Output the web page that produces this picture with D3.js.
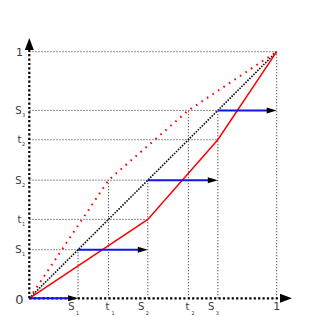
<!DOCTYPE html>
<html>
<head>
<meta charset="utf-8">
<script src="https://cdn.jsdelivr.net/npm/d3@7"></script>
<style>
  body { margin: 0; background: #fff; }
  text { font-family: "DejaVu Sans", sans-serif; fill: #3a3a3a; }
</style>
</head>
<body>
<div id="main"></div>
<script>
// values of the step points (same on both axes)
var sVals = [0.197, 0.479, 0.762];
var tVals = [0.32, 0.643];

// piecewise curves
var solidCurve = [[0, 0], [sVals[1], tVals[0]], [sVals[2], tVals[1]], [1, 1]];
var dottedCurve = [[0, 0], [tVals[0], sVals[1]], [tVals[1], sVals[2]], [1, 1]];

// blue arrows: [x from, x to, y]
var arrows = [[0, sVals[0], 0], [sVals[0], sVals[1], sVals[0]], [sVals[1], sVals[2], sVals[1]], [sVals[2], 1, sVals[2]]];

// tick labels
var yLabels = [
  {v: sVals[2], t: "S", sub: "3"}, {v: tVals[1], t: "t", sub: "2"},
  {v: sVals[1], t: "S", sub: "2"}, {v: tVals[0], t: "t", sub: "1"}, {v: sVals[0], t: "S", sub: "1"}
];
var xLabels = [
  {v: sVals[0], t: "S", sub: "1"}, {v: tVals[0], t: "t", sub: "1"}, {v: sVals[1], t: "S", sub: "2"},
  {v: tVals[1], t: "t", sub: "2"}, {v: sVals[2], t: "S", sub: "3"}
];

// guide lines: horizontal [y, xEnd], vertical [x, yEnd]
var hGuides = [[1, 1], [sVals[2], sVals[2]], [tVals[1], sVals[2]], [sVals[1], sVals[1]], [tVals[0], sVals[1]], [sVals[0], sVals[0]]];
var vGuides = [[sVals[0], sVals[0]], [tVals[0], sVals[1]], [sVals[1], sVals[1]], [tVals[1], sVals[2]], [sVals[2], sVals[2]], [1, 1]];

var W = 327, H = 327;
var svg = d3.select("#main").append("svg")
    .attr("width", W)
    .attr("height", H);

var x = d3.scaleLinear().domain([0, 1]).range([29.3, 276.7]);
var y = d3.scaleLinear().domain([0, 1]).range([298.3, 51.7]);

// guides
svg.selectAll("line.hg").data(hGuides).enter().append("line")
    .attr("class", "hg")
    .attr("x1", x(0)).attr("x2", function(d) { return x(d[1]); })
    .attr("y1", function(d) { return y(d[0]); }).attr("y2", function(d) { return y(d[0]); })
    .attr("stroke", "#555").attr("stroke-width", 1).attr("stroke-dasharray", "1.3,1.7");

svg.selectAll("line.vg").data(vGuides).enter().append("line")
    .attr("class", "vg")
    .attr("y1", y(0)).attr("y2", function(d) { return y(d[1]); })
    .attr("x1", function(d) { return x(d[0]); }).attr("x2", function(d) { return x(d[0]); })
    .attr("stroke", "#555").attr("stroke-width", 1).attr("stroke-dasharray", "1.3,1.7");

var line = d3.line().x(function(d) { return x(d[0]); }).y(function(d) { return y(d[1]); });

// diagonal
svg.append("path")
    .attr("d", line([[0, 0], [1, 1]]))
    .attr("fill", "none").attr("stroke", "#000")
    .attr("stroke-width", 1.6).attr("stroke-dasharray", "1.5,1.3");

// red dotted
svg.append("path")
    .attr("d", line(dottedCurve))
    .attr("fill", "none").attr("stroke", "#f00")
    .attr("stroke-width", 2).attr("stroke-dasharray", "1.6,5");

// red solid
svg.append("path")
    .attr("d", line(solidCurve))
    .attr("fill", "none").attr("stroke", "#f00")
    .attr("stroke-width", 1.5);

// axes (dotted)
svg.append("line")
    .attr("x1", x(0)).attr("y1", y(0)).attr("x2", x(0)).attr("y2", 48)
    .attr("stroke", "#000").attr("stroke-width", 2.2).attr("stroke-dasharray", "2.2,2.2");
svg.append("line")
    .attr("x1", x(0)).attr("y1", y(0)).attr("x2", 282).attr("y2", y(0))
    .attr("stroke", "#000").attr("stroke-width", 2.2).attr("stroke-dasharray", "2.2,2.2");
svg.append("path")
    .attr("d", "M" + x(0) + ",38 L" + (x(0) - 4.5) + ",50 L" + (x(0) + 4.5) + ",50Z")
    .attr("fill", "#000");
svg.append("path")
    .attr("d", "M292," + y(0) + " L280," + (y(0) - 4.5) + " L280," + (y(0) + 4.5) + "Z")
    .attr("fill", "#000");

// blue arrows
var ag = svg.selectAll("g.arrow").data(arrows).enter().append("g").attr("class", "arrow");
ag.append("line")
    .attr("x1", function(d) { return x(d[0]); })
    .attr("x2", function(d) { return x(d[1]) - 6; })
    .attr("y1", function(d) { return y(d[2]); })
    .attr("y2", function(d) { return y(d[2]); })
    .attr("stroke", "#1414e6").attr("stroke-width", 2);
ag.append("path")
    .attr("d", function(d) {
      var xe = x(d[1]), ye = y(d[2]);
      return "M" + xe + "," + ye + " L" + (xe - 10) + "," + (ye - 3) + " L" + (xe - 10) + "," + (ye + 3) + "Z";
    })
    .attr("fill", "#000");

// "1" and "0" labels
svg.append("text").attr("x", 23).attr("y", y(1) + 4).attr("text-anchor", "end")
    .attr("font-size", 11).text("1");
svg.append("text").attr("x", 23.5).attr("y", y(0) + 6).attr("text-anchor", "end")
    .attr("font-size", 13).text("0");
svg.append("text").attr("x", x(1)).attr("y", 309.5).attr("text-anchor", "middle")
    .attr("font-size", 11).text("1");

// y labels
var yl = svg.selectAll("g.yl").data(yLabels).enter().append("g").attr("class", "yl");
yl.append("text")
    .attr("x", 21.5).attr("y", function(d) { return y(d.v) + 3.5; })
    .attr("text-anchor", "end").attr("font-size", 10)
    .text(function(d) { return d.t; });
yl.append("text")
    .attr("x", 22).attr("y", function(d) { return y(d.v) + 6.5; })
    .attr("font-size", 5)
    .text(function(d) { return d.sub; });

// x labels
var xl = svg.selectAll("g.xl").data(xLabels).enter().append("g").attr("class", "xl");
xl.append("text")
    .attr("x", function(d) { return x(d.v) + (d.t == "S" ? -3.5 : 1); })
    .attr("y", 309.5)
    .attr("text-anchor", "end").attr("font-size", 10)
    .text(function(d) { return d.t; });
xl.append("text")
    .attr("x", function(d) { return x(d.v) + (d.t == "S" ? -2 : 3); })
    .attr("y", 314.5)
    .attr("font-size", 5)
    .text(function(d) { return d.sub; });
</script>
</body>
</html>
